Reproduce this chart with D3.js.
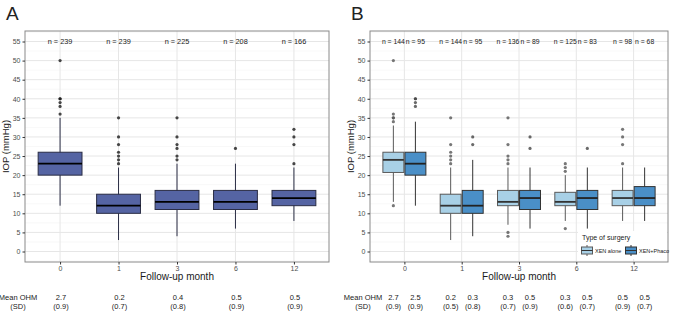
<!DOCTYPE html>
<html lang="en">
<head>
<meta charset="UTF-8">
<title>IOP boxplots</title>
<script src="https://cdnjs.cloudflare.com/ajax/libs/d3/7.8.5/d3.min.js"></script>
<style>
  body { margin: 0; background: #fff; font-family: "Liberation Sans", Arial, sans-serif; }
  svg text { font-family: "Liberation Sans", Arial, sans-serif; }
  .tick text { fill: #4d4d4d; font-size: 7px; }
  .tick line { stroke: #333; }
  .domain { display: none; }
</style>
</head>
<body>
<div id="wrapper"></div>
<script>
// ---- data ----
const months = ['0', '1', '3', '6', '12']
const yTicks = [0, 5, 10, 15, 20, 25, 30, 35, 40, 45, 50, 55]

// panel A: all eyes  [lower whisker, Q1, median, Q3, upper whisker]
const nAll = [239, 239, 225, 208, 166]
const boxAll = [[12, 20, 23, 26, 35], [3, 10, 12, 15, 22], [4, 11, 13, 16, 23], [6, 11, 13, 16, 23], [8, 12, 14, 16, 22]]
const outAll = [[36, 38, 39, 40, 40, 50], [23, 24, 25, 26, 28, 30, 35], [24, 25, 27, 28, 30, 35], [27], [23, 28, 30, 32]]
const ohmAll = ['2.7', '0.2', '0.4', '0.5', '0.5']
const sdAll = ['(0.9)', '(0.7)', '(0.8)', '(0.9)', '(0.9)']

// panel B: by type of surgery
const groups = ['XEN alone', 'XEN+Phaco']
const nAlone = [144, 144, 136, 125, 98]
const nPhaco = [95, 95, 89, 83, 68]
const boxAlone = [[13, 20.7, 24, 26, 33], [3, 10, 12, 15, 22], [7, 12, 13, 16, 22], [8, 12, 13, 15.5, 20], [8, 12, 14, 16, 22]]
const boxPhaco = [[12, 20, 23, 26, 34], [4, 10, 12, 16, 24], [6, 11, 14, 16, 22], [6, 11, 14, 16, 22], [8, 12, 14, 17, 22]]
const outAlone = [[12, 34, 35, 35, 36, 50], [23, 24, 25, 26, 28, 35], [4, 5, 23, 24, 25, 28, 35], [6, 21, 22, 23], [23, 28, 30, 32]]
const outPhaco = [[38, 39, 40, 40], [28, 30], [27, 30], [27], []]
const ohmAlone = ['2.7', '0.2', '0.3', '0.3', '0.5']
const sdAlone = ['(0.9)', '(0.5)', '(0.7)', '(0.6)', '(0.9)']
const ohmPhaco = ['2.5', '0.3', '0.5', '0.5', '0.5']
const sdPhaco = ['(0.9)', '(0.8)', '(0.9)', '(0.7)', '(0.7)']

const colors = { all: '#5564a3', 'XEN alone': '#a8d0e6', 'XEN+Phaco': '#4a8fc7' }

// ---- canvas ----
const svg = d3.select('#wrapper').append('svg')
    .attr('width', 675)
    .attr('height', 312)

const plotTop = 31, plotBottom = 262

function drawPanel(opts) {
    const { left, right, label, series, nSize } = opts
    const g = svg.append('g')

    const yScale = d3.scaleLinear().domain([-2.75, 57.75]).range([plotBottom, plotTop])
    const xScale = d3.scalePoint().domain(months).range([left, right]).padding(0.6)
    const boxW = xScale.step() * 0.75
    const dodge = d3.scaleBand().domain(series.map(s => s.name))
        .range([-boxW / 2, boxW / 2]).paddingInner(series.length > 1 ? 0.05 : 0)

    // panel letter
    svg.append('text').attr('x', left - 19).attr('y', 20)
        .style('font-size', '19px').attr('fill', '#222').text(label)

    // grid
    const minor = d3.range(-2.5, 57.6, 5)
    g.selectAll('.minor').data(minor).join('line')
        .attr('x1', left).attr('x2', right)
        .attr('y1', d => yScale(d)).attr('y2', d => yScale(d))
        .attr('stroke', '#f0f0f0').attr('stroke-width', 0.5)
    g.selectAll('.major').data(yTicks).join('line')
        .attr('x1', left).attr('x2', right)
        .attr('y1', d => yScale(d)).attr('y2', d => yScale(d))
        .attr('stroke', '#e6e6e6').attr('stroke-width', 1)
    g.selectAll('.vgrid').data(months).join('line')
        .attr('x1', d => xScale(d)).attr('x2', d => xScale(d))
        .attr('y1', plotTop).attr('y2', plotBottom)
        .attr('stroke', '#e6e6e6').attr('stroke-width', 1)

    // boxes
    series.forEach(s => {
        const off = dodge(s.name)
        const w = dodge.bandwidth()
        const sg = g.append('g')
        months.forEach((m, i) => {
            const [lo, q1, med, q3, hi] = s.box[i]
            const x0 = xScale(m) + off
            const cx = x0 + w / 2
            sg.append('line').attr('x1', cx).attr('x2', cx)
                .attr('y1', yScale(lo)).attr('y2', yScale(hi))
                .attr('stroke', s.stroke).attr('stroke-width', 1)
            sg.append('rect').attr('x', x0).attr('y', yScale(q3))
                .attr('width', w).attr('height', yScale(q1) - yScale(q3))
                .attr('fill', s.fill).attr('stroke', s.stroke).attr('stroke-width', 1)
            sg.append('line').attr('x1', x0).attr('x2', x0 + w)
                .attr('y1', yScale(med)).attr('y2', yScale(med))
                .attr('stroke', s.medStroke).attr('stroke-width', 1.8)
            sg.selectAll(null).data(s.out[i]).join('circle')
                .attr('cx', cx).attr('cy', d => yScale(d)).attr('r', 1.6)
                .attr('fill', s.dot).attr('fill-opacity', 0.8)
            // n label
            g.append('text').attr('x', cx).attr('y', yScale(55) + 2.5)
                .style('font-size', nSize + 'px').attr('fill', '#1a1a1a')
                .attr('text-anchor', 'middle').text('n = ' + s.n[i])
            // mean OHM
            g.append('text').attr('x', cx + (series.length > 1 ? 0 : 1)).attr('y', 300)
                .style('font-size', '7.5px').attr('fill', '#1a1a1a')
                .attr('text-anchor', 'middle').text(s.ohm[i])
            g.append('text').attr('x', cx + (series.length > 1 ? 0 : 1)).attr('y', 309)
                .style('font-size', '7.5px').attr('fill', '#1a1a1a')
                .attr('text-anchor', 'middle').text(s.sd[i])
        })
    })

    // border
    g.append('rect').attr('x', left).attr('y', plotTop)
        .attr('width', right - left).attr('height', plotBottom - plotTop)
        .attr('fill', 'none').attr('stroke', '#8a8a8a').attr('stroke-width', 1)

    // axes
    g.append('g').attr('transform', `translate(${left},0)`)
        .call(d3.axisLeft(yScale).tickValues(yTicks).tickSize(2.5).tickPadding(2))
    g.append('g').attr('transform', `translate(0,${plotBottom})`)
        .call(d3.axisBottom(xScale).tickSize(2.5).tickPadding(2))

    g.append('text').attr('transform', `translate(${left - 16},${(plotTop + plotBottom) / 2}) rotate(-90)`)
        .attr('text-anchor', 'middle').style('font-size', '9.5px').attr('fill', '#1a1a1a')
        .text('IOP (mmHg)')
    g.append('text').attr('x', (left + right) / 2).attr('y', 280)
        .attr('text-anchor', 'middle').style('font-size', '10px').attr('fill', '#1a1a1a')
        .text('Follow-up month')

    g.append('text').attr('x', left - 7).attr('y', 300)
        .attr('text-anchor', 'middle').style('font-size', '7.5px').attr('fill', '#1a1a1a')
        .text('Mean OHM')
    g.append('text').attr('x', left - 7).attr('y', 309)
        .attr('text-anchor', 'middle').style('font-size', '7.5px').attr('fill', '#1a1a1a')
        .text('(SD)')

    return g
}

drawPanel({
    left: 25, right: 329, label: 'A', nSize: 7.3,
    series: [{ name: 'all', box: boxAll, out: outAll, n: nAll, ohm: ohmAll, sd: sdAll,
        fill: colors.all, stroke: '#2a2d45', medStroke: '#000', dot: '#1a1a1a' }]
})

const gB = drawPanel({
    left: 370, right: 668, label: 'B', nSize: 6.8,
    series: [
        { name: groups[0], box: boxAlone, out: outAlone, n: nAlone, ohm: ohmAlone, sd: sdAlone,
            fill: colors[groups[0]], stroke: '#5a5a5a', medStroke: '#333', dot: '#555' },
        { name: groups[1], box: boxPhaco, out: outPhaco, n: nPhaco, ohm: ohmPhaco, sd: sdPhaco,
            fill: colors[groups[1]], stroke: '#333', medStroke: '#222', dot: '#444' }
    ]
})

// legend
const leg = gB.append('g').attr('transform', 'translate(578,231)')
leg.append('rect').attr('width', 89).attr('height', 28).attr('fill', '#fff')
leg.append('text').attr('x', 4).attr('y', 9).style('font-size', '7px').attr('fill', '#1a1a1a')
    .text('Type of surgery')
const legX = [3, 47]
groups.forEach((gname, i) => {
    const k = leg.append('g').attr('transform', `translate(${legX[i]},14)`)
    k.append('line').attr('x1', 6).attr('x2', 6).attr('y1', 0).attr('y2', 11)
        .attr('stroke', i ? '#333' : '#5a5a5a')
    k.append('rect').attr('x', 0.5).attr('y', 2).attr('width', 11).attr('height', 7)
        .attr('fill', colors[gname]).attr('stroke', i ? '#333' : '#5a5a5a')
    k.append('line').attr('x1', 0.5).attr('x2', 11.5).attr('y1', 5.5).attr('y2', 5.5)
        .attr('stroke', '#333')
    k.append('text').attr('x', 14).attr('y', 7.8).style('font-size', '5.5px').attr('fill', '#1a1a1a')
        .text(gname)
})
</script>
</body>
</html>
